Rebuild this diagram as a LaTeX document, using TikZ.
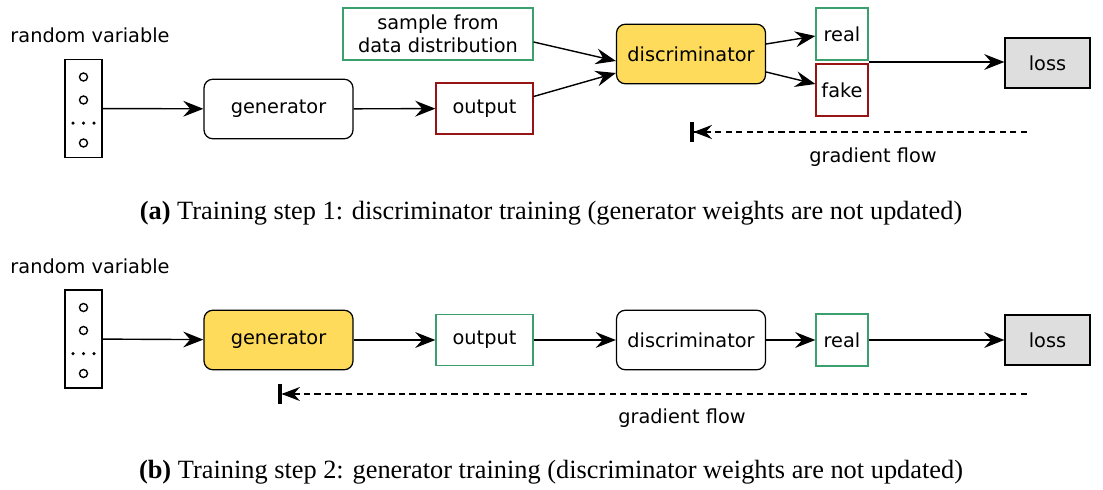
\documentclass[tikz,border=0pt]{standalone}
\usepackage{fontspec}
\setmainfont{Liberation Serif}
\newfontfamily\labelfont{DejaVu Sans}
\usetikzlibrary{arrows.meta,calc}

\definecolor{boxgreen}{RGB}{60,160,110}
\definecolor{boxred}{RGB}{150,20,20}
\definecolor{trainyellow}{RGB}{254,219,90}
\definecolor{lossgray}{RGB}{222,222,222}

\tikzset{
  lbl/.style={font=\labelfont\fontsize{11}{13}\selectfont},
  block/.style={lbl, draw, rounded corners=5pt, line width=0.7pt, minimum width=2.98cm, minimum height=1.19cm, inner sep=0pt},
  trained/.style={block, fill=trainyellow},
  realbox/.style={lbl, draw=boxgreen, line width=0.7pt, inner sep=0pt},
  fakebox/.style={lbl, draw=boxred, line width=0.7pt, inner sep=0pt},
  lossbox/.style={lbl, draw, fill=lossgray, line width=0.7pt, minimum width=1.7cm, minimum height=1cm},
  rvbox/.style={draw, line width=0.7pt, minimum width=0.74cm, minimum height=1.96cm},
  flow/.style={line width=0.8pt, -{Stealth[length=11.5pt, width=9pt, inset=4pt]}},
  grad/.style={dash pattern=on 3.6pt off 2.4pt, line width=0.7pt, -{Stealth[length=10.5pt, width=8pt, inset=3.5pt] Bar[width=11.5pt, line width=2pt]}},
  capt/.style={font=\fontsize{15}{18}\selectfont}
}

\begin{document}
\begin{tikzpicture}[x=0.02cm, y=-0.02cm]
\useasboundingbox (0,0) rectangle (1103,490);

% step 1: discriminator training
\node[lbl] (rvlabelA) at (90,35) {random variable};
\node[rvbox] (rvA) at (83.5,108.5) {};
\node[block] (genA) at (278.5,109) {generator};
\node[fakebox, minimum width=1.94cm, minimum height=1.02cm] (outA) at (484.5,108.5) {output};
\node[realbox, minimum width=3.8cm, minimum height=1.04cm, align=center] (sample) at (438,34) {sample from\\data distribution};
\node[trained] (discA) at (691,54) {discriminator};
\node[realbox, minimum size=1.04cm] (realA) at (842,34) {real};
\node[fakebox, minimum size=1.04cm] (fakeA) at (842,90) {fake};
\node[lossbox] (lossA) at (1047.5,63) {loss};

\draw[flow] (rvA) -- (genA);
\draw[flow] (genA) -- (outA);
\draw[flow] ([yshift=-0.16cm]sample.east) -- ([yshift=-0.14cm]discA.west);
\draw[flow] ([yshift=0.24cm]outA.east) -- ([yshift=-0.38cm]discA.west);
\draw[flow] ([yshift=0.2cm]discA.east) -- ([yshift=-0.04cm]realA.west);
\draw[flow] ([yshift=-0.36cm]discA.east) -- ([yshift=0.12cm]fakeA.west);
\coordinate (outsA) at ($(realA.south east)!0.5!(fakeA.north east)$);
\draw[flow] (outsA) -- (outsA -| lossA.west);

\coordinate (gradstartA) at (1027,132);
\coordinate (gradendA) at (690,132);
\draw[grad] (gradstartA) -- (gradendA);
\node[lbl] (gradlabelA) at (873,157) {gradient flow};

\node[capt] (captA) at (551,213) {\textbf{(a)} Training step 1: discriminator training (generator weights are not updated)};

% step 2: generator training
\node[lbl] (rvlabelB) at (90,266) {random variable};
\node[rvbox] (rvB) at (83.5,339) {};
\node[trained] (genB) at (278.5,340) {generator};
\node[realbox, minimum width=1.94cm, minimum height=1.02cm] (outB) at (484.5,340) {output};
\node[block] (discB) at (691,340) {discriminator};
\node[realbox, minimum size=1.04cm] (realB) at (842,340) {real};
\node[lossbox] (lossB) at (1047.5,340) {loss};

\draw[flow] (rvB) -- (genB);
\draw[flow] (genB) -- (outB);
\draw[flow] (outB) -- (discB);
\draw[flow] (discB) -- (realB);
\draw[flow] (realB) -- (lossB);

\coordinate (gradstartB) at (1027,394);
\coordinate (gradendB) at (278,394);
\draw[grad] (gradstartB) -- (gradendB);
\node[lbl] (gradlabelB) at (682,418) {gradient flow};

\node[capt] (captB) at (551,472) {\textbf{(b)} Training step 2: generator training (discriminator weights are not updated)};

% latent vectors
\foreach \r in {rvA, rvB} {
  \foreach \dy in {-31.5, -8.5, 34.5}
    \draw[line width=0.8pt] ($(\r)+(0,\dy)$) circle (0.08cm);
  \foreach \dx in {-10.5, 0, 10.5}
    \fill ($(\r)+(\dx,14.5)$) circle (0.035cm);
}
\end{tikzpicture}
\end{document}
